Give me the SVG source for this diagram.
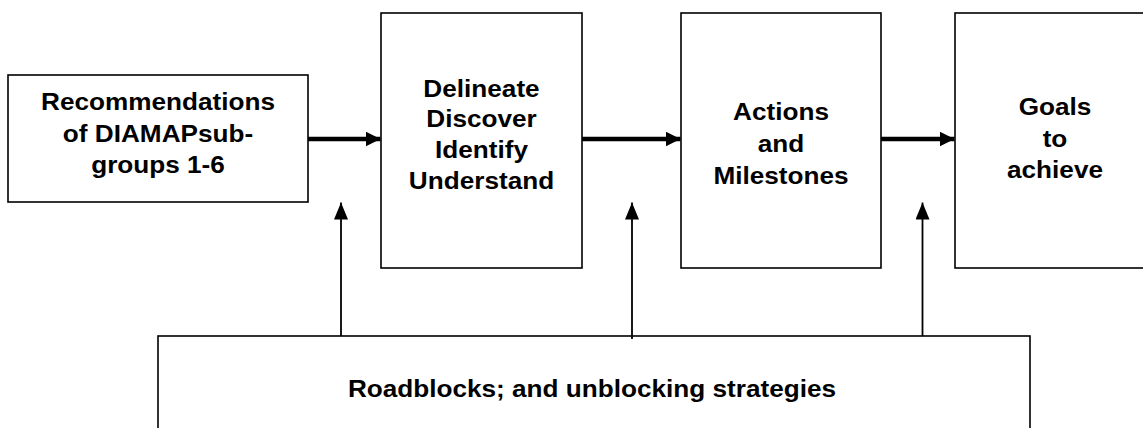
<svg xmlns="http://www.w3.org/2000/svg" width="1143" height="428" viewBox="0 0 1143 428">
<style>
.box{fill:#fff;stroke:#000;stroke-width:1.6}
.t{font-family:"Liberation Sans",Arial,sans-serif;font-weight:bold;font-size:24px;fill:#000;text-anchor:middle}
.thick{stroke:#000;stroke-width:4.5;fill:none}
.thin{stroke:#000;stroke-width:1.8;fill:none}
</style>
<defs>
<marker id="ah" viewBox="0 0 15 15" markerUnits="userSpaceOnUse" markerWidth="15" markerHeight="15" refX="15" refY="7.5" orient="auto">
<path d="M0,0 L15,7.5 L0,15 Z" fill="#000"/>
</marker>
<marker id="av" viewBox="0 0 17 14" markerUnits="userSpaceOnUse" markerWidth="17" markerHeight="14" refX="17" refY="7" orient="auto">
<path d="M0,0 L17,7 L0,14 Z" fill="#000"/>
</marker>
</defs>
<rect width="1143" height="428" fill="#fff"/>
<g id="node-recommendations">
<rect class="box" x="8" y="75" width="300" height="127"/>
<text class="t" transform="translate(158,110) scale(1.09,1)">Recommendations</text>
<text class="t" transform="translate(158,141.5) scale(1.09,1)">of DIAMAPsub-</text>
<text class="t" transform="translate(158,172.5) scale(1.09,1)">groups 1-6</text>
</g>
<g id="node-delineate">
<rect class="box" x="381" y="13" width="201" height="255"/>
<text class="t" transform="translate(481.5,97) scale(1.09,1)">Delineate</text>
<text class="t" transform="translate(481.5,127) scale(1.09,1)">Discover</text>
<text class="t" transform="translate(481.5,157.5) scale(1.09,1)">Identify</text>
<text class="t" transform="translate(481.5,188.5) scale(1.09,1)">Understand</text>
</g>
<g id="node-actions">
<rect class="box" x="681" y="13" width="200" height="255"/>
<text class="t" transform="translate(781,120) scale(1.09,1)">Actions</text>
<text class="t" transform="translate(781,152) scale(1.09,1)">and</text>
<text class="t" transform="translate(781,183.5) scale(1.09,1)">Milestones</text>
</g>
<g id="node-goals">
<rect class="box" x="955" y="13" width="200" height="255"/>
<text class="t" transform="translate(1055,115) scale(1.09,1)">Goals</text>
<text class="t" transform="translate(1055,146.5) scale(1.09,1)">to</text>
<text class="t" transform="translate(1055,178) scale(1.09,1)">achieve</text>
</g>
<g id="node-roadblocks">
<rect class="box" x="158" y="336" width="872" height="110"/>
<text class="t" transform="translate(592,396.5) scale(1.09,1)">Roadblocks; and unblocking strategies</text>
</g>
<g id="connectors">
<line class="thick" x1="308" y1="139" x2="380.5" y2="139" marker-end="url(#ah)"/>
<line class="thick" x1="582" y1="139" x2="680.5" y2="139" marker-end="url(#ah)"/>
<line class="thick" x1="881" y1="139" x2="954.5" y2="139" marker-end="url(#ah)"/>
<line class="thin" x1="341" y1="336" x2="341" y2="202.5" marker-end="url(#av)"/>
<line class="thin" x1="632" y1="339" x2="632" y2="202.5" marker-end="url(#av)"/>
<line class="thin" x1="922.5" y1="336" x2="922.5" y2="202.5" marker-end="url(#av)"/>
</g>
</svg>
